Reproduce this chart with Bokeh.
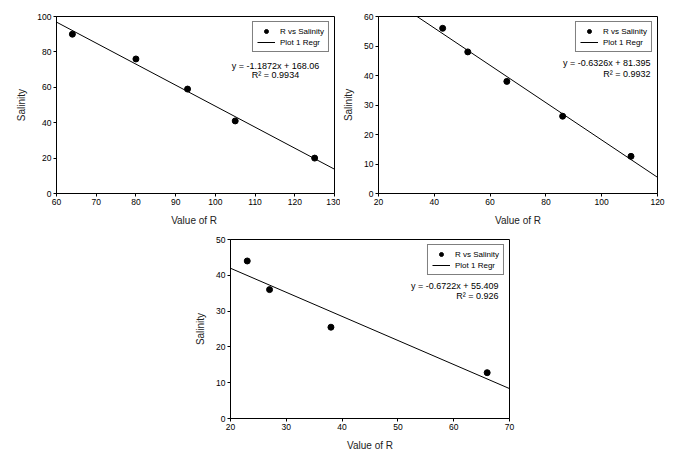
from bokeh.plotting import figure
from bokeh.layouts import column, row
from bokeh.models import Spacer, Legend, LegendItem, Label, Range1d, FixedTicker
from bokeh.embed import file_html
from bokeh.resources import INLINE

# ---- data ----
r1 = [64, 80, 93, 105, 125]
s1 = [90, 76, 59, 41, 20]
slope1, icpt1, rsq1 = -1.1872, 168.06, 0.9934
xr1, yr1 = (60, 130), (0, 100)
xt1 = [60, 70, 80, 90, 100, 110, 120, 130]
yt1 = [0, 20, 40, 60, 80, 100]
xlab1 = "Value of  R"

r2 = [43, 52, 66, 86, 110.5]
s2 = [56, 48, 38, 26.2, 12.6]
slope2, icpt2, rsq2 = -0.6326, 81.395, 0.9932
xr2, yr2 = (20, 120), (0, 60)
xt2 = [20, 40, 60, 80, 100, 120]
yt2 = [0, 10, 20, 30, 40, 50, 60]
xlab2 = "Value of R"

r3 = [23, 27, 38, 66]
s3 = [44, 36, 25.5, 12.8]
slope3, icpt3, rsq3 = -0.6722, 55.409, 0.926
xr3, yr3 = (20, 70), (0, 50)
xt3 = [20, 30, 40, 50, 60, 70]
yt3 = [0, 10, 20, 30, 40, 50]
xlab3 = "Value of R"

FONT = "Liberation Sans"


def make(r, s, slope, icpt, rsq, xr, yr, xt, yt, xlab, w, h, bl, br, bt, bb,
         eq_x, eq_y1, eq_y2, eq_align):
    p = figure(width=w, height=h, output_backend="svg", toolbar_location=None,
               x_range=Range1d(*xr), y_range=Range1d(*yr),
               min_border_left=bl, min_border_right=br,
               min_border_top=bt, min_border_bottom=bb)
    p.xgrid.visible = False
    p.ygrid.visible = False
    p.outline_line_color = "black"
    p.outline_line_alpha = 1
    p.background_fill_color = "white"
    p.border_fill_color = "white"
    for ax in (p.xaxis[0], p.yaxis[0]):
        ax.axis_line_color = "black"
        ax.major_tick_line_color = "black"
        ax.minor_tick_line_color = None
        ax.major_tick_in = 0
        ax.major_tick_out = 3
        ax.major_label_standoff = 2
        ax.major_label_text_font = FONT
        ax.major_label_text_font_size = "8.5px"
        ax.major_label_text_color = "black"
        ax.axis_label_text_font = FONT
        ax.axis_label_text_font_size = "10px"
        ax.axis_label_text_font_style = "normal"
        ax.axis_label_text_color = "#222222"
        ax.axis_label_standoff = 7
    p.xaxis.ticker = FixedTicker(ticks=xt)
    p.yaxis.ticker = FixedTicker(ticks=yt)
    p.xaxis.axis_label = xlab
    p.yaxis.axis_label = "Salinity"

    pts = p.scatter(r, s, size=6, color="black", marker="circle")
    lx = list(xr)
    ly = [slope * v + icpt for v in lx]
    ln = p.line(lx, ly, line_color="black", line_width=1)

    leg = Legend(items=[LegendItem(label="R vs Salinity", renderers=[pts]),
                        LegendItem(label="Plot 1 Regr", renderers=[ln])],
                 location="top_right", margin=5, padding=4, spacing=1,
                 label_text_font=FONT, label_text_font_size="8px",
                 label_text_color="black",
                 label_height=10, glyph_height=10, glyph_width=18,
                 label_standoff=5,
                 border_line_color="black", border_line_width=1,
                 background_fill_alpha=1)
    p.add_layout(leg)

    eq = "y = %sx + %s" % (str(slope), str(icpt))
    r2t = "R\u00b2 = %s" % str(rsq)
    for txt, yy in ((eq, eq_y1), (r2t, eq_y2)):
        p.add_layout(Label(x=eq_x, y=yy, x_units="screen", y_units="screen",
                           text=txt, text_align=eq_align, text_baseline="middle",
                           text_font=FONT, text_font_size="9px",
                           text_color="black"))
    return p


p1 = make(r1, s1, slope1, icpt1, rsq1, xr1, yr1, xt1, yt1, xlab1,
          340, 228, 56, 6, 16, 33, 219, 128, 119, "center")
p2 = make(r2, s2, slope2, icpt2, rsq2, xr2, yr2, xt2, yt2, xlab2,
          346, 228, 38, 29, 15, 34, 272, 131, 120, "right")
p3 = make(r3, s3, slope3, icpt3, rsq3, xr3, yr3, xt3, yt3, xlab3,
          360, 227, 60, 21, 11, 37, 268, 133, 123, "right")

layout = column(row(p1, p2), row(Spacer(width=170, height=227), p3))

open("out.html", "w").write(file_html(layout, INLINE))
